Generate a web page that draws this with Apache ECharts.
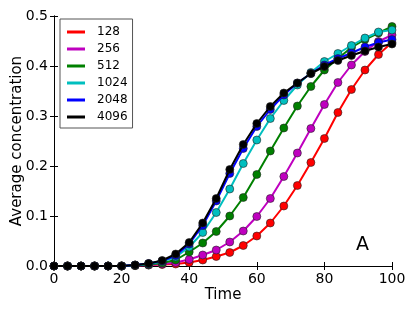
<!DOCTYPE html>
<html>
<head>
<meta charset="utf-8">
<script src="https://cdn.jsdelivr.net/npm/echarts@6/dist/echarts.min.js"></script>
<style>html,body{margin:0;padding:0;background:#fff;}#c{width:415px;height:312px;}</style>
</head>
<body>
<div id="c"></div>
<script>
const times = [0,4,8,12,16,20,24,28,32,36,40,44,48,52,56,60,64,68,72,76,80,84,88,92,96,100];
const s128  = [0,0,0,0,0,0,0.001,0.002,0.003,0.004,0.007,0.012,0.019,0.027,0.041,0.060,0.086,0.120,0.161,0.207,0.255,0.307,0.353,0.392,0.423,0.447];
const s256  = [0,0,0,0,0,0,0.001,0.002,0.004,0.007,0.013,0.022,0.032,0.048,0.070,0.099,0.135,0.179,0.226,0.275,0.323,0.367,0.402,0.429,0.449,0.462];
const s512  = [0,0,0,0,0,0,0.001,0.003,0.006,0.012,0.028,0.046,0.069,0.100,0.137,0.183,0.230,0.276,0.320,0.359,0.392,0.415,0.437,0.453,0.466,0.479];
const s1024 = [0,0,0,0,0,0,0.002,0.004,0.009,0.018,0.038,0.067,0.107,0.154,0.205,0.252,0.295,0.331,0.362,0.387,0.409,0.425,0.441,0.456,0.468,0.472];
const s2048 = [0,0,0,0,0,0,0.002,0.005,0.010,0.021,0.044,0.081,0.130,0.185,0.235,0.279,0.313,0.342,0.366,0.385,0.402,0.415,0.426,0.438,0.447,0.453];
const s4096 = [0,0,0,0,0,0,0.002,0.005,0.011,0.024,0.047,0.086,0.135,0.193,0.243,0.285,0.319,0.346,0.366,0.385,0.399,0.411,0.421,0.430,0.438,0.444];
const names = ['128','256','512','1024','2048','4096'];
const colors = ['#ff0000','#bf00bf','#008000','#00bfbf','#0000ff','#000000'];
const allSeries = [s128,s256,s512,s1024,s2048,s4096];
const xTicks = [0,20,40,60,80,100];
const yTicks = [0.0,0.1,0.2,0.3,0.4,0.5];

const font = 'DejaVu Sans';
const chart = echarts.init(document.getElementById('c'), null, {renderer:'canvas'});
const axisCommon = {
  axisLine:{show:true,lineStyle:{color:'#000',width:1}},
  axisTick:{show:true,inside:true,length:4,lineStyle:{color:'#000',width:1}},
  splitLine:{show:false}
};
chart.setOption({
  animation:false,
  backgroundColor:'#fff',
  grid:{left:54,right:23,top:16,bottom:46,containLabel:false,outerBoundsMode:'none'},
  xAxis:[
    Object.assign({type:'value',min:0,max:100,interval:20,position:'bottom',
      name:'Time',nameLocation:'middle',nameGap:22,nameMoveOverlap:false,
      nameTextStyle:{fontFamily:font,fontSize:15,color:'#000'},
      axisLabel:{fontFamily:font,fontSize:14,color:'#000',margin:6,
        formatter:v=>xTicks.includes(v)?String(v):''}},axisCommon),
    Object.assign({type:'value',min:0,max:100,interval:20,position:'top',
      axisLabel:{show:false}},axisCommon)
  ],
  yAxis:[
    Object.assign({type:'value',min:0,max:0.5,interval:0.1,position:'left',
      name:'Average concentration',nameLocation:'middle',nameGap:29,nameMoveOverlap:false,
      nameTextStyle:{fontFamily:font,fontSize:15,color:'#000'},
      axisLabel:{fontFamily:font,fontSize:14,color:'#000',margin:6,
        formatter:v=>v.toFixed(1)}},axisCommon),
    Object.assign({type:'value',min:0,max:0.5,interval:0.1,position:'right',
      axisLabel:{show:false}},axisCommon)
  ],
  legend:{
    orient:'vertical',left:60,top:19,
    padding:[6,5,4,7],itemGap:3,
    itemWidth:18,itemHeight:3,
    borderColor:'#555',borderWidth:1,backgroundColor:'#fff',
    data:names.map((n,i)=>({name:n,icon:'rect',itemStyle:{color:colors[i],borderWidth:0}})),
    textStyle:{fontFamily:font,fontSize:12,color:'#000',lineHeight:14,padding:[0,0,0,7]}
  },
  graphic:[{type:'text',left:356,top:236,style:{text:'A',font:'19px "DejaVu Sans"',fill:'#000'}}],
  series:allSeries.map((arr,i)=>({
    name:names[i],type:'line',xAxisIndex:0,yAxisIndex:0,
    data:times.map((t,j)=>[t,arr[j]]),
    symbol:'circle',symbolSize:8,showSymbol:true,
    lineStyle:{color:colors[i],width:2},
    itemStyle:{color:colors[i],borderColor:'#222',borderWidth:0.6},
    z:2+i
  }))
});
</script>
</body>
</html>
